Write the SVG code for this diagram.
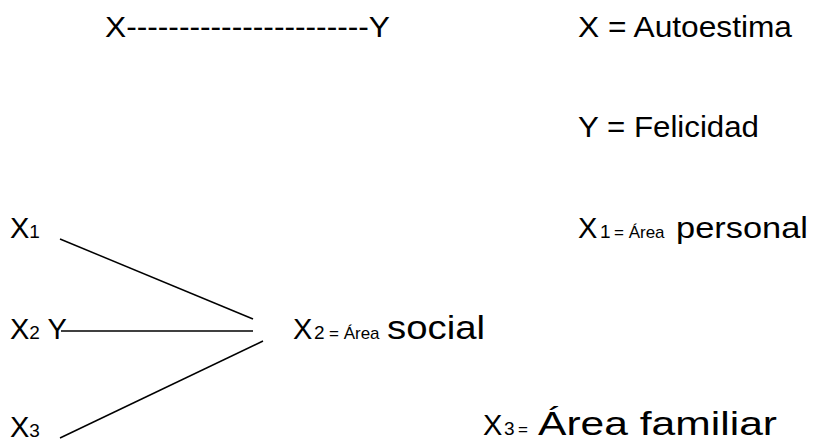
<svg xmlns="http://www.w3.org/2000/svg" width="813" height="443" viewBox="0 0 813 443">
<style>
text{font-family:"Liberation Sans",Arial,sans-serif;font-size:29px;fill:#000}
.s{font-size:19px}
.t{font-size:17px}
.c line{stroke:#000;stroke-width:1.5}
</style>
<rect width="813" height="443" fill="#fff"/>
<g id="top"><text x="105" y="37" textLength="285" lengthAdjust="spacingAndGlyphs">X-----------------------Y</text></g>
<g id="defX"><text x="578" y="37" textLength="214" lengthAdjust="spacingAndGlyphs">X = Autoestima</text></g>
<g id="defY"><text x="578" y="137" textLength="181" lengthAdjust="spacingAndGlyphs">Y = Felicidad</text></g>
<g id="defX1"><text x="578" y="238">X<tspan class="s" x="600">1</tspan><tspan class="t" x="614">= Área</tspan><tspan x="676" textLength="132" lengthAdjust="spacingAndGlyphs">personal</tspan></text></g>
<g id="defX2"><text x="293" y="339">X<tspan class="s" x="314">2</tspan><tspan class="t" x="329">= Área</tspan><tspan x="387" font-size="34" textLength="98" lengthAdjust="spacingAndGlyphs">social</tspan></text></g>
<g id="defX3"><text x="483" y="435">X<tspan class="s" x="504">3</tspan><tspan class="t" x="518">=</tspan><tspan x="538" font-size="33" textLength="239" lengthAdjust="spacingAndGlyphs">Área familiar</tspan></text></g>
<g id="nX1"><text x="10" y="238">X<tspan class="s">1</tspan></text></g>
<g id="nX2"><text x="10" y="339">X<tspan class="s">2</tspan> Y</text></g>
<g id="nX3"><text x="10" y="437">X<tspan class="s">3</tspan></text></g>
<g class="c" id="connectors">
<line x1="60" y1="239" x2="253" y2="319"/>
<line x1="61" y1="331" x2="253" y2="331"/>
<line x1="60" y1="438" x2="263" y2="341"/>
</g>
</svg>
